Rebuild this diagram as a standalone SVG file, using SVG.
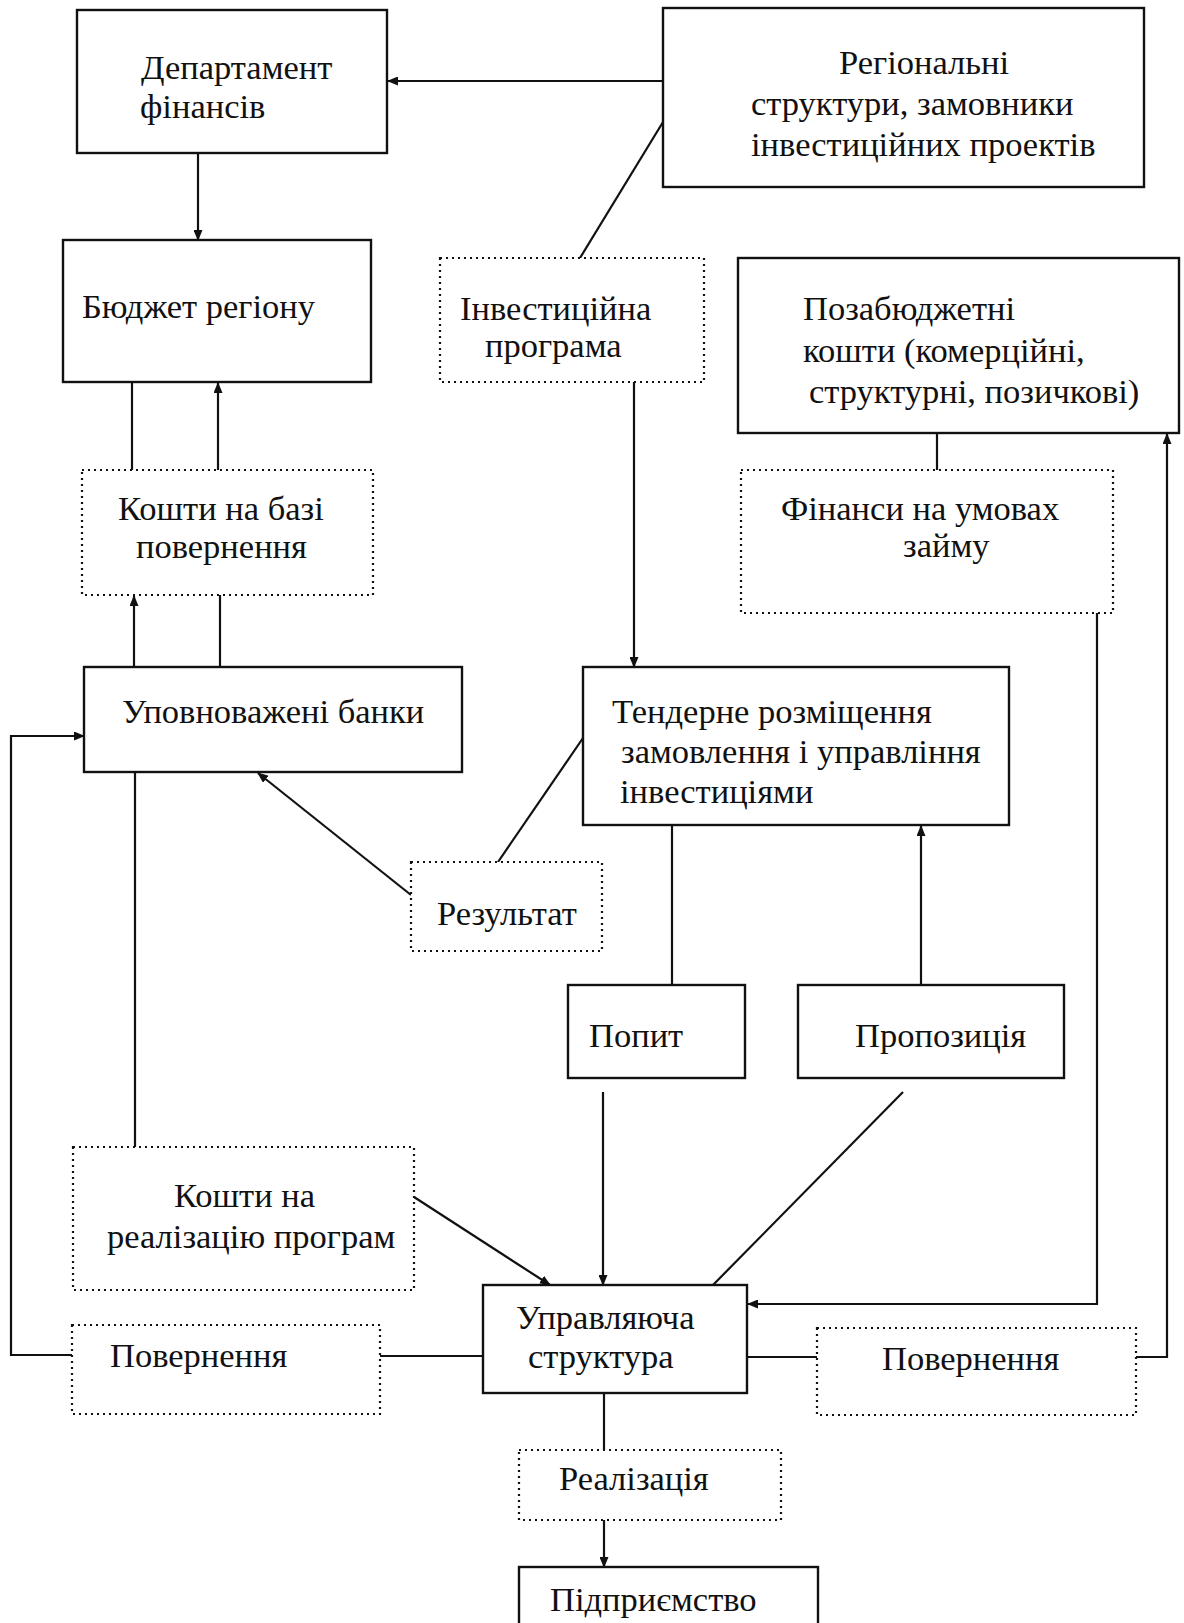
<svg xmlns="http://www.w3.org/2000/svg" width="1184" height="1623" viewBox="0 0 1184 1623">
<defs>
<style>
.b{fill:#fff;stroke:#111;stroke-width:2.4}
.d{fill:#fff;stroke:#111;stroke-width:2.2;stroke-dasharray:2 4}
text{font-family:"Liberation Serif","Times New Roman",serif;font-size:34.5px;fill:#111}
.c line,.c polyline{stroke:#111;stroke-width:2.2;fill:none}
</style>
<marker id="ah" markerUnits="userSpaceOnUse" markerWidth="11" markerHeight="9" refX="10" refY="4.5" orient="auto">
<path d="M0,0 L11,4.5 L0,9 z" fill="#111"/>
</marker>
</defs>
<rect width="1184" height="1623" fill="#fff"/>
<g class="c" id="connectors">
<line x1="663" y1="81" x2="388" y2="81" marker-end="url(#ah)"/>
<line x1="663" y1="122" x2="580" y2="258"/>
<line x1="198" y1="153" x2="198" y2="240" marker-end="url(#ah)"/>
<line x1="132" y1="382" x2="132" y2="470"/>
<line x1="218" y1="470" x2="218" y2="383" marker-end="url(#ah)"/>
<line x1="134" y1="667" x2="134" y2="596" marker-end="url(#ah)"/>
<line x1="220" y1="667" x2="220" y2="595"/>
<line x1="634" y1="382" x2="634" y2="667" marker-end="url(#ah)"/>
<line x1="937" y1="433" x2="937" y2="470"/>
<polyline points="1097,613 1097,1304 748,1304" marker-end="url(#ah)"/>
<polyline points="1136,1357 1167,1357 1167,434" marker-end="url(#ah)"/>
<line x1="135" y1="772" x2="135" y2="1147"/>
<polyline points="72,1355 11,1355 11,736 84,736" marker-end="url(#ah)"/>
<line x1="411" y1="895" x2="258" y2="773" marker-end="url(#ah)"/>
<line x1="498" y1="862" x2="583" y2="738"/>
<line x1="672" y1="825" x2="672" y2="985"/>
<line x1="921" y1="985" x2="921" y2="826" marker-end="url(#ah)"/>
<line x1="603" y1="1092" x2="603" y2="1285" marker-end="url(#ah)"/>
<line x1="903" y1="1092" x2="713" y2="1285"/>
<line x1="414" y1="1197" x2="550" y2="1285" marker-end="url(#ah)"/>
<line x1="380" y1="1356" x2="483" y2="1356"/>
<line x1="747" y1="1357" x2="817" y2="1357"/>
<line x1="604" y1="1393" x2="604" y2="1450"/>
<line x1="604" y1="1520" x2="604" y2="1567" marker-end="url(#ah)"/>
</g>
<g id="dept"><rect class="b" x="77" y="10" width="310" height="143"/><text x="141" y="79">Департамент</text><text x="140" y="118">фінансів</text></g>
<g id="regional"><rect class="b" x="663" y="8" width="481" height="179"/><text x="839" y="74">Регіональні</text><text x="751" y="115">структури, замовники</text><text x="751" y="156">інвестиційних проектів</text></g>
<g id="budget"><rect class="b" x="63" y="240" width="308" height="142"/><text x="82" y="318">Бюджет регіону</text></g>
<g id="invest"><rect class="d" x="440" y="258" width="264" height="124"/><text x="460" y="320">Інвестиційна</text><text x="485" y="357">програма</text></g>
<g id="extra"><rect class="b" x="738" y="258" width="441" height="175"/><text x="803" y="320">Позабюджетні</text><text x="803" y="362">кошти (комерційні,</text><text x="809" y="403">структурні, позичкові)</text></g>
<g id="kbase"><rect class="d" x="82" y="470" width="291" height="125"/><text x="118" y="520">Кошти на базі</text><text x="136" y="558">повернення</text></g>
<g id="finance"><rect class="d" x="741" y="470" width="372" height="143"/><text x="781" y="520">Фінанси на умовах</text><text x="903" y="557">займу</text></g>
<g id="banks"><rect class="b" x="84" y="667" width="378" height="105"/><text x="122" y="723">Уповноважені банки</text></g>
<g id="tender"><rect class="b" x="583" y="667" width="426" height="158"/><text x="612" y="723">Тендерне розміщення</text><text x="621" y="763">замовлення і управління</text><text x="620" y="803">інвестиціями</text></g>
<g id="result"><rect class="d" x="411" y="862" width="191" height="89"/><text x="437" y="925">Результат</text></g>
<g id="demand"><rect class="b" x="568" y="985" width="177" height="93"/><text x="589" y="1047">Попит</text></g>
<g id="supply"><rect class="b" x="798" y="985" width="266" height="93"/><text x="855" y="1047">Пропозиція</text></g>
<g id="kreal"><rect class="d" x="73" y="1147" width="341" height="143"/><text x="174" y="1207">Кошти на</text><text x="107" y="1248">реалізацію програм</text></g>
<g id="manage"><rect class="b" x="483" y="1285" width="264" height="108"/><text x="516" y="1329">Управляюча</text><text x="528" y="1368">структура</text></g>
<g id="retL"><rect class="d" x="72" y="1325" width="308" height="89"/><text x="110" y="1367">Повернення</text></g>
<g id="retR"><rect class="d" x="817" y="1328" width="319" height="87"/><text x="882" y="1370">Повернення</text></g>
<g id="realiz"><rect class="d" x="519" y="1450" width="262" height="70"/><text x="559" y="1490">Реалізація</text></g>
<g id="enterprise"><rect class="b" x="519" y="1567" width="299" height="70"/><text x="550" y="1611">Підприємство</text></g>
</svg>
